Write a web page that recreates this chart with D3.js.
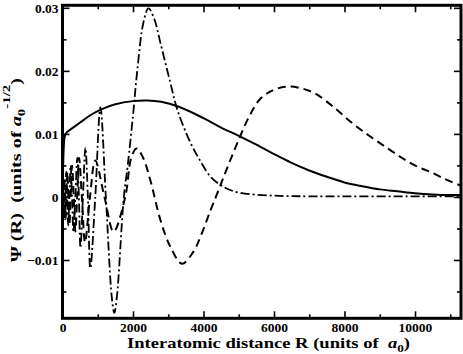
<!DOCTYPE html>
<html>
<head>
<meta charset="utf-8">
<script src="https://cdn.jsdelivr.net/npm/d3@7"></script>
<style>
  body { margin: 0; background: #fff; }
  svg { display: block; font-family: "Liberation Serif", "Times New Roman", serif; font-weight: bold; }
</style>
</head>
<body>
<div id="chart"></div>
<script>
// axis ticks
const xTicks = [0, 2000, 4000, 6000, 8000, 10000];
const xMinorTicks = [1000, 3000, 5000, 7000, 9000, 11000];
const yTicks = [-0.01, 0, 0.01, 0.02, 0.03];
const yMinorTicks = [-0.015, -0.005, 0.005, 0.015, 0.025];

// [R, psi]
const solid = [
  [0, 0], [15, 0.004], [35, 0.0078], [60, 0.0095], [100, 0.0101], [200, 0.0106],
  [350, 0.0112], [500, 0.0118], [800, 0.013], [1100, 0.0139], [1500, 0.0147],
  [2000, 0.0152], [2400, 0.0153], [2800, 0.0151], [3300, 0.0143], [4000, 0.0125],
  [4500, 0.011], [5000, 0.0097], [5500, 0.0083], [6000, 0.0068], [6500, 0.0054],
  [7000, 0.0042], [7500, 0.0032], [8000, 0.0023], [8500, 0.0017], [9000, 0.0012],
  [9500, 0.0009], [10000, 0.0006], [10500, 0.0004], [11000, 0.0003], [11300, 0.0003]
];

const dashed = [
  [0, 0], [18, -0.0025], [35, 0], [52, 0.003], [70, 0], [90, -0.0035], [112, 0],
  [138, 0.004], [165, 0], [195, -0.0045], [232, 0], [272, 0.005], [318, 0],
  [365, -0.0055], [415, 0], [470, 0.0062], [550, 0], [640, -0.0072], [780, 0],
  [930, 0.0058], [1190, 0], [1450, -0.0055], [1780, 0], [1950, 0.0062],
  [2100, 0.0077], [2280, 0.0063], [2490, 0.0027], [2780, -0.0037], [3060, -0.0079],
  [3390, -0.0106], [3700, -0.0088], [3915, -0.0063], [4200, -0.0021], [4420, 0.001],
  [4700, 0.005], [5030, 0.0095], [5300, 0.0128], [5600, 0.0155], [6000, 0.017],
  [6400, 0.0175], [6800, 0.0172], [7200, 0.0163], [7700, 0.0142], [8200, 0.0118],
  [8700, 0.0097], [9200, 0.0078], [9600, 0.0063], [10000, 0.005], [10500, 0.0038],
  [10900, 0.0027], [11300, 0.0018]
];

const dashDot = [
  [0, 0], [25, 0.003], [42, 0], [60, -0.0035], [82, 0], [105, 0.004], [132, 0],
  [160, -0.0045], [195, 0], [230, 0.005], [270, 0], [310, -0.0056], [365, 0],
  [420, 0.0062], [465, 0], [510, -0.0081], [580, 0], [650, 0.0078], [720, 0],
  [790, -0.0113], [930, 0], [1075, 0.0142], [1230, 0], [1400, -0.016],
  [1470, -0.0184], [1540, -0.016], [1740, 0], [1850, 0.005], [2010, 0.0135],
  [2120, 0.02], [2300, 0.0278], [2440, 0.0299], [2600, 0.0283], [2780, 0.0244],
  [3060, 0.0181], [3260, 0.0138], [3630, 0.0086], [3900, 0.0058], [4200, 0.0032],
  [4600, 0.0015], [5000, 0.0007], [6000, 0.0002], [7000, 0.0001], [11300, 0.0001]
];

const width = 463;
const height = 354;
const margin = {top: 5.3, right: 2, bottom: 35.7, left: 62.5};

const svg = d3.select("#chart")
  .append("svg")
  .attr("width", width)
  .attr("height", height);

const x = d3.scaleLinear()
  .domain([0, 11305])
  .range([margin.left, width - margin.right]);

const y = d3.scaleLinear()
  .domain([-0.01925, 0.0304])
  .range([height - margin.bottom, margin.top]);

const fmtY = d => d === 0 ? "0" : d3.format(".2f")(d);

const tidy = g => {
  g.select(".domain").remove();
  g.selectAll("line").attr("stroke-width", 1.6);
  g.selectAll("text").attr("font-size", 13.5).attr("fill", "#000")
    .attr("font-family", "Liberation Serif, Times New Roman, serif");
};

// bottom / top
svg.append("g")
  .attr("transform", `translate(0,${y.range()[0]})`)
  .call(d3.axisBottom(x).tickValues(xTicks).tickSize(-7).tickPadding(4).tickFormat(d3.format("d")))
  .call(tidy);
svg.append("g")
  .attr("transform", `translate(0,${y.range()[0]})`)
  .call(d3.axisBottom(x).tickValues(xMinorTicks).tickSize(-4).tickFormat(""))
  .call(tidy);
svg.append("g")
  .attr("transform", `translate(0,${y.range()[1]})`)
  .call(d3.axisTop(x).tickValues(xTicks).tickSize(-7).tickFormat(""))
  .call(tidy);
svg.append("g")
  .attr("transform", `translate(0,${y.range()[1]})`)
  .call(d3.axisTop(x).tickValues(xMinorTicks).tickSize(-4).tickFormat(""))
  .call(tidy);

// left / right
svg.append("g")
  .attr("transform", `translate(${x.range()[0]},0)`)
  .call(d3.axisLeft(y).tickValues(yTicks).tickSize(-7).tickPadding(4).tickFormat(fmtY))
  .call(tidy);
svg.append("g")
  .attr("transform", `translate(${x.range()[0]},0)`)
  .call(d3.axisLeft(y).tickValues(yMinorTicks).tickSize(-4).tickFormat(""))
  .call(tidy);
svg.append("g")
  .attr("transform", `translate(${x.range()[1]},0)`)
  .call(d3.axisRight(y).tickValues(yTicks).tickSize(-7).tickFormat(""))
  .call(tidy);
svg.append("g")
  .attr("transform", `translate(${x.range()[1]},0)`)
  .call(d3.axisRight(y).tickValues(yMinorTicks).tickSize(-4).tickFormat(""))
  .call(tidy);

const line = d3.line()
  .x(d => x(d[0]))
  .y(d => y(d[1]))
  .curve(d3.curveCatmullRom.alpha(0.5));

const plot = svg.append("g");

plot.append("path")
  .datum(dashDot)
  .attr("fill", "none")
  .attr("stroke", "#000")
  .attr("stroke-width", 1.8)
  .attr("stroke-dasharray", "9,3,2,3")
  .attr("d", line);

plot.append("path")
  .datum(dashed)
  .attr("fill", "none")
  .attr("stroke", "#000")
  .attr("stroke-width", 2)
  .attr("stroke-dasharray", "8,5")
  .attr("d", line);

plot.append("path")
  .datum(solid)
  .attr("fill", "none")
  .attr("stroke", "#000")
  .attr("stroke-width", 2)
  .attr("stroke-linejoin", "round")
  .attr("d", line);

// frame
svg.append("rect")
  .attr("x", x.range()[0])
  .attr("y", y.range()[1])
  .attr("width", x.range()[1] - x.range()[0])
  .attr("height", y.range()[0] - y.range()[1])
  .attr("fill", "none")
  .attr("stroke", "#000")
  .attr("stroke-width", 3);

// axis titles
const xTitle = svg.append("text")
  .attr("x", 127)
  .attr("y", 348)
  .attr("font-size", 15.5)
  .attr("textLength", 283)
  .attr("lengthAdjust", "spacingAndGlyphs")
  .style("white-space", "pre");
xTitle.append("tspan").text("Interatomic distance R (units of  ");
xTitle.append("tspan").attr("font-style", "italic").text("a");
xTitle.append("tspan").attr("font-size", 11).attr("dy", 4).text("0");
xTitle.append("tspan").attr("dy", -4).text(")");

const yTitle = svg.append("text")
  .attr("transform", "translate(21,262) rotate(-90)")
  .attr("font-size", 15)
  .attr("textLength", 184)
  .attr("lengthAdjust", "spacingAndGlyphs")
  .style("white-space", "pre");
yTitle.append("tspan").text("\u03A8 (R)  (units of ");
yTitle.append("tspan").attr("font-style", "italic").text("a");
yTitle.append("tspan").attr("font-size", 11).attr("dy", 4).text("0");
yTitle.append("tspan").attr("font-size", 11).attr("dy", -15).text("-1/2");
yTitle.append("tspan").attr("dy", 11).text(")");
</script>
</body>
</html>
